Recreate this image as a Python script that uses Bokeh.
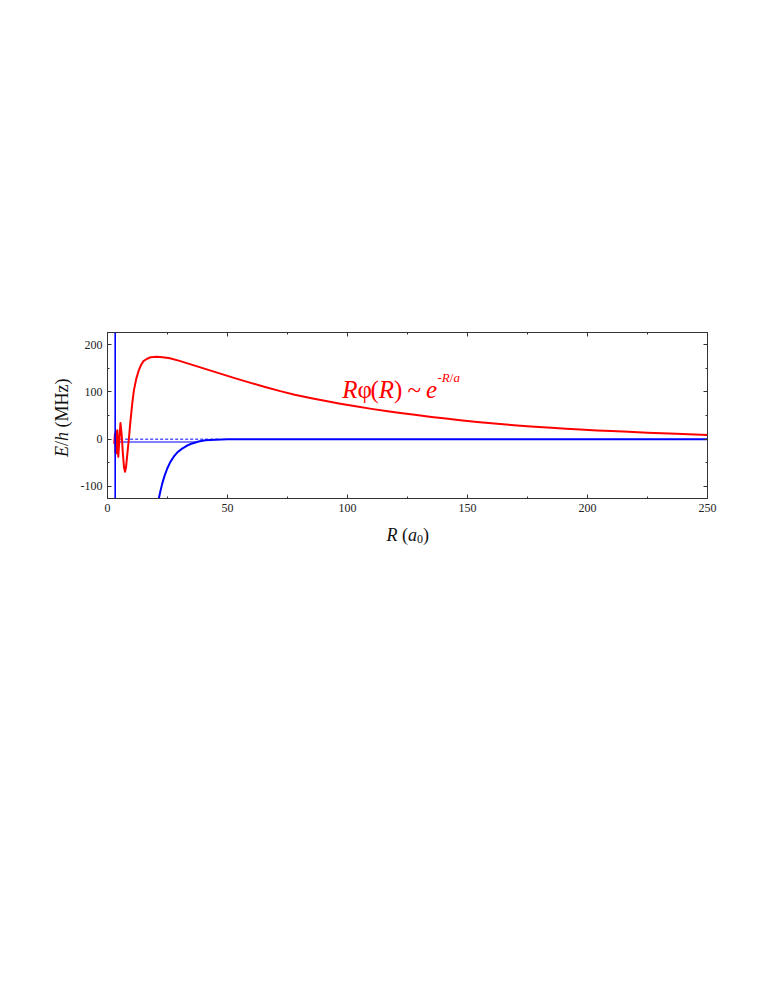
import math
from bokeh.plotting import figure
from bokeh.models import Range1d, FixedTicker, LinearAxis, Label, Span, Div
from bokeh.layouts import row, column
from bokeh.embed import file_html
from bokeh.resources import INLINE

# ---- data ----
wave_R = [2.8, 3.1, 3.3, 3.55, 3.8, 4.1, 4.5, 4.95, 5.4, 5.9, 6.4, 6.9, 7.3, 7.7, 8.2, 8.9,
          9.5, 10.3, 11.0, 12.0, 13.0, 14.0, 15.0, 16.5, 18.0, 20.5, 23.0, 26.0, 30.0, 34.0,
          40.0, 47.0, 53.0, 60.0, 66.0, 72.0, 78.0, 85.0, 91.0, 97.0, 104.0, 110.0, 116.0,
          122.0, 128.0, 135.0, 141.0, 147.0, 154.0, 160.0, 166.0, 172.0, 178.0, 185.0,
          191.0, 197.0, 204.0, 210.0, 217.0, 225.0, 237.0, 250.0]
wave_E = [-10, 12, -28, 16, -30, 19, -37, 0, 34, 10, -30, -60, -69, -60, -35, 0,
          35, 75, 103, 128, 145, 157, 165, 170, 173, 174, 173.3, 171, 165.5, 159,
          149.5, 138.5, 129, 118.5, 109.8, 101.5, 94, 86.5, 80.5, 75, 69, 64, 59.5,
          55.5, 51.5, 47, 43.5, 40, 36.5, 33.5, 31, 28.5, 26.3, 24,
          22, 20.3, 18.5, 17, 15.4, 13.7, 11.3, 9]

pot_R = [21.4, 22.0, 22.8, 23.8, 24.9, 26.2, 27.6, 29.3, 31.1, 33.0, 35.3, 38.0, 40.8,
         45.0, 50.0, 60.0, 80.0, 250.0]
pot_E = [-125, -111, -94, -77, -62, -48, -37, -27, -20, -14, -9, -5, -2.5,
         -1, -0.4, -0.1, 0, 0]

wall_R = 3.2
bound_R = [3.2, 37.0]
bound_E = [-6, -6]
threshold_R = [3.2, 47.0]
threshold_E = [0, 0]

x_ticks = [0, 50, 100, 150, 200, 250]
x_minor = [25, 75, 125, 175, 225]
y_ticks = [-100, 0, 100, 200]
y_tick_labels = ["-100", "0", "100", "200"]
y_minor = [-50, 50, 150]

# ---- layout constants (picture pixels) ----
FL, FT, FW, FH = 107, 332, 600, 166
YLAB_W = 76
P_BOTTOM = 20
P_RIGHT = 40
P_W = FL - YLAB_W + FW + P_RIGHT
P_H = FT + FH + P_BOTTOM
X0, X1 = 0, 250
Y0, Y1 = -125.4, 225.4
sx = FW / (X1 - X0)
sy = FH / (Y1 - Y0)


def d(xp, yp):
    """picture pixel -> data coords (text placement only)"""
    return X0 + (xp - FL) / sx, Y1 - (yp - FT) / sy


FONT = "Liberation Serif"
RED = "#ff0000"
BLUE = "#0000ff"

p = figure(width=P_W, height=P_H,
           min_border_left=FL - YLAB_W, min_border_top=FT,
           min_border_right=P_RIGHT, min_border_bottom=P_BOTTOM,
           x_range=Range1d(X0, X1), y_range=Range1d(Y0, Y1),
           output_backend="svg", toolbar_location=None,
           x_axis_location=None, y_axis_location=None)
p.grid.visible = False
p.outline_line_color = "#333333"
p.background_fill_color = "white"
p.border_fill_color = "white"


def style_axis(ax, ticks, minor, labels=None, show=True):
    ax.ticker = FixedTicker(ticks=ticks, minor_ticks=minor)
    ax.axis_line_color = "#333333"
    ax.major_tick_line_color = "#333333"
    ax.minor_tick_line_color = "#333333"
    ax.major_tick_in = 4
    ax.major_tick_out = 0
    ax.minor_tick_in = 2
    ax.minor_tick_out = 0
    ax.major_label_text_font = FONT
    ax.major_label_text_font_size = "12px"
    ax.major_label_text_color = "#222222"
    ax.major_label_standoff = 5
    if labels is not None:
        ax.major_label_overrides = labels
    if not show:
        ax.major_label_overrides = {t: "" for t in ticks}


xb = LinearAxis(); style_axis(xb, x_ticks, x_minor); p.add_layout(xb, "below")
xa = LinearAxis(); style_axis(xa, x_ticks, x_minor, show=False); p.add_layout(xa, "above")
yl = LinearAxis(); style_axis(yl, y_ticks, y_minor,
                              labels={t: s for t, s in zip(y_ticks, y_tick_labels)})
p.add_layout(yl, "left")
yr = LinearAxis(); style_axis(yr, y_ticks, y_minor, show=False); p.add_layout(yr, "right")

# ---- marks ----
p.add_layout(Span(location=wall_R, dimension="height", line_color=BLUE, line_width=1.6))
p.line(threshold_R, threshold_E, line_color=BLUE, line_width=1, line_dash="3 2")
p.line(bound_R, bound_E, line_color=BLUE, line_width=1.2)
p.line(pot_R, pot_E, line_color=BLUE, line_width=2, line_join="round")
p.line(wave_R, wave_E, line_color=RED, line_width=2, line_join="round")


def lab(fig, x, y, text, size, style="normal", color="#111111", angle=0.0):
    fig.add_layout(Label(x=x, y=y, text=text, text_font=FONT, text_font_size=f"{size}px",
                         text_font_style=style, text_color=color, angle=angle,
                         text_align="left", text_baseline="alphabetic"))


# annotation R phi(R) ~ e^{-R/a}
s = 25
x = 341.7; yb = 388.5
for t, st, w in [("R", "italic", 0.611), ("\u03c6", "normal", 0.52), ("(", "normal", 0.333),
                 ("R", "italic", 0.611), (")", "normal", 0.533), ("~", "normal", 0.741),
                 ("e", "italic", 0.444)]:
    lab(p, *d(x, yb), t, s, st, RED)
    x += w * s
x += 0.5
ss = 13; ys = 377
for t, st, w in [("-", "normal", 0.333), ("R", "italic", 0.611), ("/", "normal", 0.278),
                 ("a", "italic", 0.5)]:
    lab(p, *d(x, ys), t, ss, st, RED)
    x += w * ss

# y axis label  E/h (MHz): rotated HTML text in a Div left of the plot
ls = 18
base_x = 68.5          # baseline position (picture x)
start_y = 456.7        # bottom end of the text (picture y)
ylab_html = (
    f'<div style="position:relative;width:{YLAB_W}px;height:{P_H}px;overflow:visible;">'
    f'<span style="position:absolute;left:{base_x - 0.84 * ls:.1f}px;top:{start_y:.1f}px;'
    f'transform-origin:0 0;transform:rotate(-90deg);white-space:nowrap;'
    f'font-family:\'{FONT}\';font-size:{ls}px;line-height:1;color:#111111;">'
    f'<i>E</i>/<i>h</i> (MHz)</span></div>'
)
fy = Div(text=ylab_html, width=YLAB_W, height=P_H, margin=0)


def blank_fig(w, h):
    f = figure(width=w, height=h, x_range=Range1d(0, w), y_range=Range1d(0, h),
               min_border=0, output_backend="svg", toolbar_location=None,
               x_axis_location=None, y_axis_location=None, title=None)
    f.grid.visible = False
    f.outline_line_color = None
    f.background_fill_color = "white"
    f.border_fill_color = "white"
    return f


# x axis label  R (a0): figure under the plot, data y = XL_H - (page y - P_H)
XL_H = 44
fx = blank_fig(YLAB_W + P_W, XL_H)
xp = 386; yb = 534
for t, st, w, sz, dy in [("R", "italic", 0.861, ls, 0), ("(", "normal", 0.333, ls, 0),
                         ("a", "italic", 0.5, ls, 0), ("0", "normal", 0.5, 12, 4),
                         (")", "normal", 0.333, ls, 0)]:
    lab(fx, xp, XL_H - (yb + dy - P_H), t, sz, st)
    xp += w * sz

layout = column(row(fy, p), fx)
open("out.html", "w").write(file_html(layout, INLINE))
